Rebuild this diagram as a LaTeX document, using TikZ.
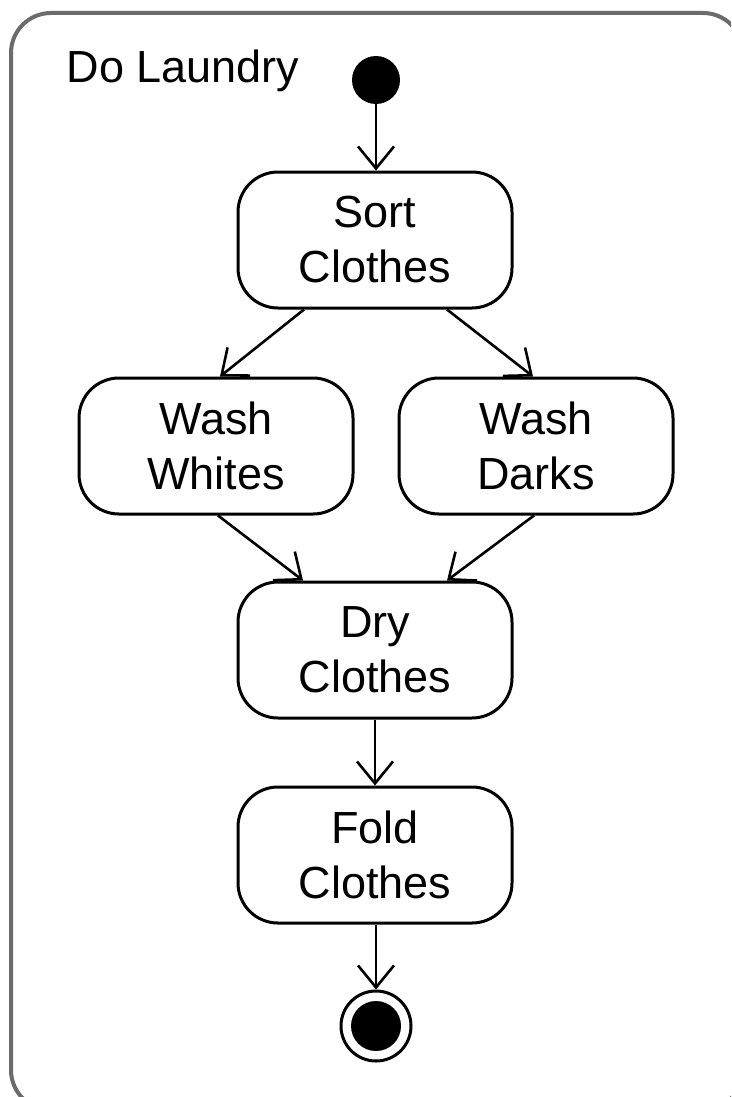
\documentclass[tikz,border=0pt]{standalone}
\usepackage{fontspec}
\setmainfont{Liberation Sans}
\usetikzlibrary{arrows.meta}
\definecolor{framegray}{rgb}{0.42,0.42,0.42}
\begin{document}
\begin{tikzpicture}[x=1pt,y=-1pt,
  action/.style={draw=black,line width=3pt,rounded corners=40pt,
    minimum width=274pt,minimum height=136pt,align=center,inner sep=0pt,
    font=\fontsize{45}{55}\selectfont},
  flow/.style={draw=black,line width=2.6pt,
    -{Straight Barb[length=22pt,width=36pt,line width=2.6pt]}},
  startdot/.style={circle,fill=black,minimum size=48pt,inner sep=0pt},
]
\useasboundingbox (0,0) rectangle (731,1097);
\begin{scope}
\clip (0,0) rectangle (731,1097);
\draw[framegray,line width=4pt,rounded corners=40pt] (11,13) rectangle (743,1110);
\end{scope}
\node[anchor=base west,font=\fontsize{45}{55}\selectfont] (title) at (63,83) {Do Laundry};

\node[startdot] (init) at (376,80) {};
\node[action] (sort) at (375,240) {Sort\\Clothes};
\node[action] (whites) at (216,446) {Wash\\Whites};
\node[action] (darks) at (536,446) {Wash\\Darks};
\node[action] (dry) at (375,650) {Dry\\Clothes};
\node[action] (fold) at (375,855) {Fold\\Clothes};
\node[circle,draw=black,line width=3pt,minimum size=70pt,inner sep=0pt] (final) at (376,1026) {};
\node[startdot,minimum size=50pt] (finaldot) at (final) {};

\draw[flow] (init) -- (sort.north -| init);
\draw[flow] ([xshift=-71pt]sort.south) -- ([xshift=4pt]whites.north);
\draw[flow] ([xshift=72pt]sort.south) -- ([xshift=-3pt]darks.north);
\draw[flow] ([xshift=2pt]whites.south) -- ([xshift=-72pt]dry.north);
\draw[flow] ([xshift=-2pt]darks.south) -- ([xshift=72pt]dry.north);
\draw[flow] (dry) -- (fold.north -| dry);
\draw[flow] ([xshift=1pt]fold.south) -- (final.north);
\end{tikzpicture}
\end{document}
